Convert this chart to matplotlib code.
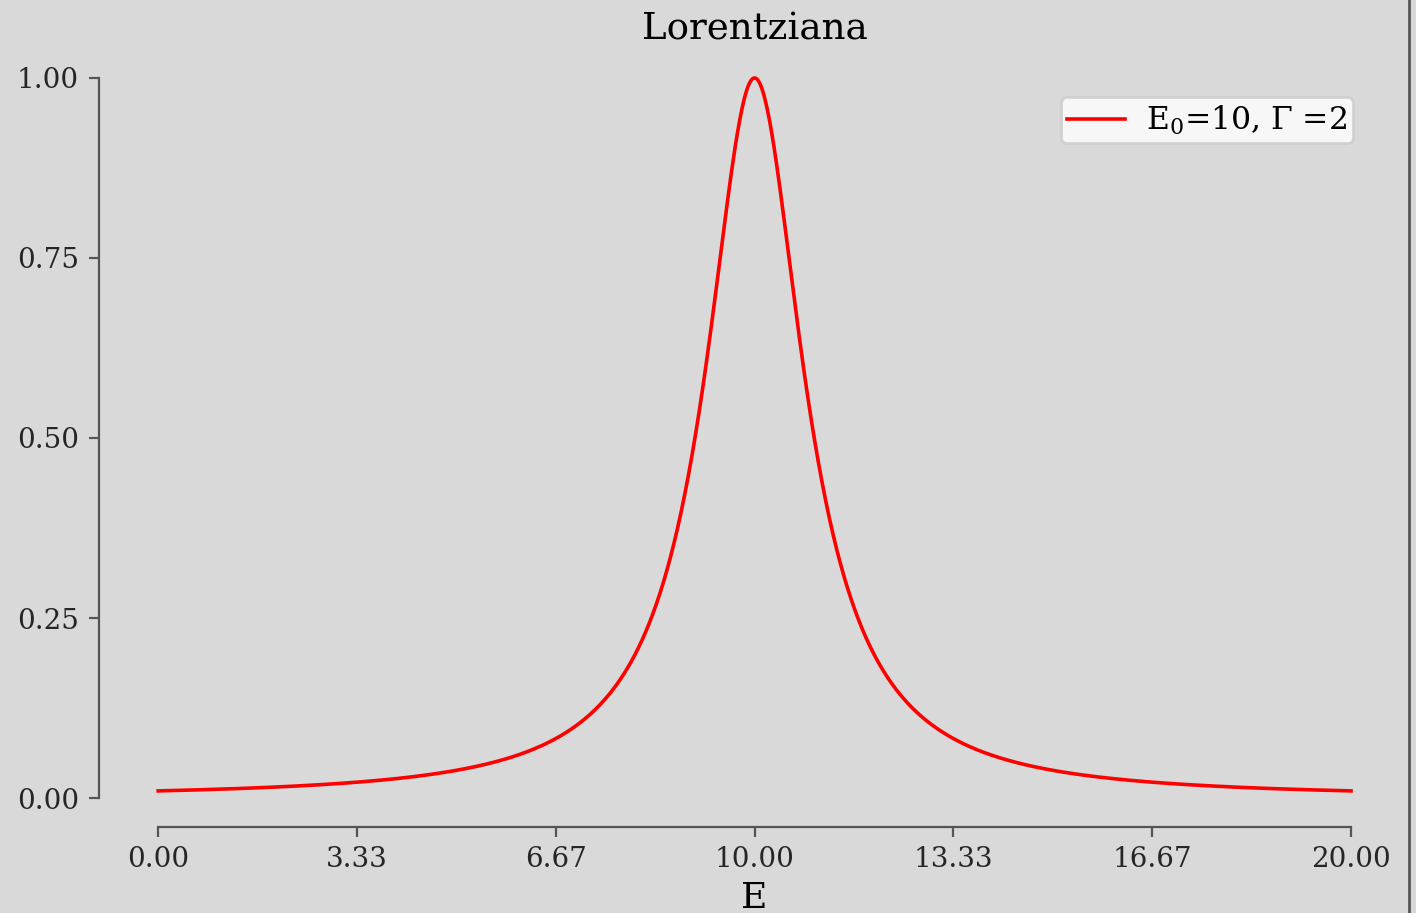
import numpy as np
import matplotlib
matplotlib.use("Agg")
import matplotlib.pyplot as plt
from matplotlib.lines import Line2D

# Lorentzian parameters (peak position and full width at half maximum)
E0 = 10
Gamma = 2
E_min, E_max = 0, 20
x_ticks = np.linspace(E_min, E_max, 7)
y_ticks = [0.0, 0.25, 0.5, 0.75, 1.0]

E = np.linspace(E_min, E_max, 1000)
L = (Gamma / 2) ** 2 / ((E - E0) ** 2 + (Gamma / 2) ** 2)

plt.rcParams['font.family'] = 'DejaVu Serif'
plt.rcParams['mathtext.fontset'] = 'dejavuserif'

bg = '#d9d9d9'
fig = plt.figure(figsize=(7.08, 4.565), dpi=200, facecolor=bg)
ax = fig.add_axes([0.0696, 0.0947, 0.9266, 0.8589], facecolor=bg)

ax.plot(E, L, color='red', lw=1.3, label=r'E$_0$=10, $\Gamma$ =2')

ax.set_xticks(x_ticks)
ax.set_xticklabels([f'{t:.2f}' for t in x_ticks])
ax.set_yticks(y_ticks)
ax.set_yticklabels([f'{t:.2f}' for t in y_ticks])
ax.tick_params(labelsize=10, colors='#555555', labelcolor='#262626')

ax.set_title('Lorentziana', fontsize=13.4, pad=0, y=1.004)
ax.set_xlabel('E', fontsize=13, labelpad=3)

# trimmed spines, only left and bottom
for side in ('top', 'right'):
    ax.spines[side].set_visible(False)
ax.spines['left'].set_bounds(0, 1)
ax.spines['bottom'].set_bounds(E_min, E_max)
for side in ('left', 'bottom'):
    ax.spines[side].set_color('#555555')

ax.legend(loc='upper right', bbox_to_anchor=(0.956, 0.930), borderaxespad=0,
          fontsize=11.3, borderpad=0.2, handlelength=1.85, handletextpad=0.65,
          fancybox=True)

# frame line along the right edge
fig.add_artist(Line2D([0.9954, 0.9954], [0, 1], transform=fig.transFigure,
                      color='#555555', lw=1.0))

fig.savefig('out.png', dpi=200, facecolor=bg)
